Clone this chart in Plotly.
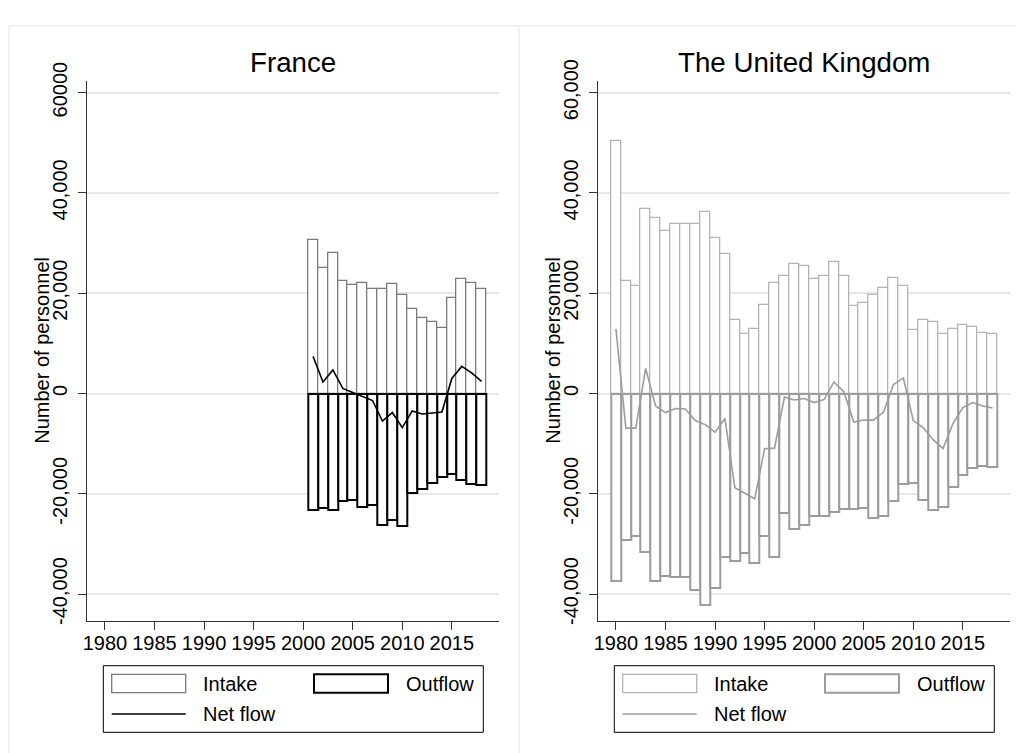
import plotly.graph_objects as go

# ---------------- data ----------------
years_fr = [2001, 2002, 2003, 2004, 2005, 2006, 2007, 2008, 2009, 2010,
            2011, 2012, 2013, 2014, 2015, 2016, 2017, 2018]
intake_fr = [30600, 25100, 28100, 22500, 21600, 22000, 20800, 20800, 21800, 19600,
             16900, 15000, 14300, 13100, 19000, 22800, 22000, 20800]
outflow_fr = [-23200, -22800, -23200, -21400, -21300, -22600, -22200, -26300, -25200, -26500,
              -19900, -19100, -17900, -16700, -16000, -17300, -18000, -18300]
net_fr = [7400, 2300, 4700, 1000, 200, -600, -1400, -5500, -3800, -6800,
          -3500, -4100, -3900, -3700, 3000, 5400, 4100, 2400]

years_uk = [1980, 1981, 1982, 1983, 1984, 1985, 1986, 1987, 1988, 1989,
            1990, 1991, 1992, 1993, 1994, 1995, 1996, 1997, 1998, 1999,
            2000, 2001, 2002, 2003, 2004, 2005, 2006, 2007, 2008, 2009,
            2010, 2011, 2012, 2013, 2014, 2015, 2016, 2017, 2018]
intake_uk = [50400, 22500, 21500, 36800, 35000, 32500, 33800, 33700, 33700, 36200,
             31100, 27800, 14700, 11900, 12900, 17700, 22000, 23500, 25800, 25500,
             22800, 23500, 26200, 23400, 17500, 18000, 19600, 21000, 23000, 21400,
             12700, 14700, 14300, 11800, 12900, 13700, 13200, 12100, 11900]
outflow_uk = [-37400, -29300, -28500, -31700, -37400, -36300, -36600, -36600, -39100, -42200,
              -38800, -32600, -33400, -31800, -33700, -28500, -32700, -23900, -27100, -26200,
              -24500, -24400, -23700, -23100, -23100, -22800, -24900, -24500, -21400, -18000,
              -17800, -21200, -23300, -22700, -18600, -16300, -14900, -14500, -14700]
net_uk = [12900, -6900, -6900, 5000, -2500, -3800, -3000, -3100, -5400, -6200,
          -7700, -5000, -18800, -19900, -21000, -11000, -10900, -700, -1300, -1000,
          -1800, -1200, 2300, 300, -5700, -5300, -5300, -3700, 1800, 3100,
          -5400, -6800, -9200, -11000, -6000, -2800, -1800, -2500, -2900]

y_ticks = [-40000, -20000, 0, 20000, 40000, 60000]
y_labels_fr = ["-40,000", "-20,000", "0", "20,000", "40,000", "60000"]
y_labels_uk = ["-40,000", "-20,000", "0", "20,000", "40,000", "60,000"]
x_ticks = [1980, 1985, 1990, 1995, 2000, 2005, 2010, 2015]
titles = ["France", "The United Kingdom"]
y_title = "Number of personnel"
legend_labels = ["Intake", "Outflow", "Net flow"]

# ---------------- layout helpers ----------------
# The page body has an 8px margin, so the figure is sized to fill the
# rest of the 1024x753 window and page coordinates are shifted by 8px.
OFF = 8
W, H = 1024 - OFF, 753 - OFF
FONT = "Liberation Sans, Arial, sans-serif"


def px(x):
    return min(max((x - OFF) / W, 0), 1)


def py(y):
    return min(max(1 - (y - OFF) / H, 0), 1)


panels = [
    dict(title=titles[0], years=years_fr, intake=intake_fr, outflow=outflow_fr, net=net_fr,
         ylabels=y_labels_fr, x0=87.3, x1=499.0, dx=0,
         c_in="#7a7a7a", c_out="#000000", c_net="#000000", sfx=""),
    dict(title=titles[1], years=years_uk, intake=intake_uk, outflow=outflow_uk, net=net_uk,
         ylabels=y_labels_uk, x0=598.3, x1=1010.0, dx=511,
         c_in="#b4b4b4", c_out="#9c9c9c", c_net="#9c9c9c", sfx="2"),
]

fig = go.Figure()
shapes = []
annotations = []

Y_TOP, Y_BOT = 81.0, 620.5
Y_RANGE = [-45264, 62313]
X_RANGE = [1978.22, 2019.76]

for p in panels:
    xa = "x" + p["sfx"]
    ya = "y" + p["sfx"]
    fig.add_trace(go.Bar(x=p["years"], y=p["intake"], width=1.0, xaxis=xa, yaxis=ya,
                         marker=dict(color="white", line=dict(color=p["c_in"], width=1.3)),
                         showlegend=False, name=legend_labels[0]))
    fig.add_trace(go.Bar(x=p["years"], y=p["outflow"], width=1.0, xaxis=xa, yaxis=ya,
                         marker=dict(color="white", line=dict(color=p["c_out"], width=2)),
                         showlegend=False, name=legend_labels[1]))
    fig.add_trace(go.Scatter(x=p["years"], y=p["net"], mode="lines", xaxis=xa, yaxis=ya,
                             line=dict(color=p["c_net"], width=1.6),
                             showlegend=False, name=legend_labels[2]))

    axis_x = dict(domain=[px(p["x0"]), px(p["x1"])], range=X_RANGE, anchor=ya,
                  tickvals=x_ticks, ticktext=[str(v) for v in x_ticks],
                  ticks="outside", ticklen=8, tickwidth=1, tickcolor="#333333",
                  showline=True, linecolor="#333333", linewidth=1,
                  showgrid=False, zeroline=False, automargin=False,
                  ticklabelstandoff=-4,
                  tickfont=dict(family=FONT, size=20, color="black"))
    axis_y = dict(domain=[py(Y_BOT), py(Y_TOP)], range=Y_RANGE, anchor=xa,
                  tickvals=y_ticks, ticktext=p["ylabels"], tickangle=-90,
                  ticks="outside", ticklen=8, tickwidth=1, tickcolor="#333333",
                  showline=True, linecolor="#333333", linewidth=1,
                  showgrid=True, gridcolor="#e6e6e6", gridwidth=1.5, zeroline=False,
                  automargin=False, ticklabelstandoff=3,
                  tickfont=dict(family=FONT, size=20, color="black"))
    fig.update_layout(**{"xaxis" + p["sfx"]: axis_x, "yaxis" + p["sfx"]: axis_y})

    dx = p["dx"]
    # title
    annotations.append(dict(text=p["title"], x=px((p["x0"] + p["x1"]) / 2), y=py(62),
                            xref="paper", yref="paper", xanchor="center", yanchor="middle",
                            showarrow=False, font=dict(family=FONT, size=27.7, color="black")))
    # y-axis title
    annotations.append(dict(text=y_title, x=px(42 + dx), y=py((Y_TOP + Y_BOT) / 2),
                            xref="paper", yref="paper", xanchor="center", yanchor="middle",
                            textangle=-90, showarrow=False,
                            font=dict(family=FONT, size=20, color="black")))
    # legend box
    shapes.append(dict(type="rect", xref="paper", yref="paper",
                       x0=px(103.3 + dx), x1=px(483.3 + dx), y0=py(732.3), y1=py(665.7),
                       line=dict(color="black", width=1), fillcolor="white"))
    shapes.append(dict(type="rect", xref="paper", yref="paper",
                       x0=px(111.7 + dx), x1=px(185.7 + dx), y0=py(692.7), y1=py(674.3),
                       line=dict(color=p["c_in"], width=1.3), fillcolor="white"))
    shapes.append(dict(type="rect", xref="paper", yref="paper",
                       x0=px(314 + dx), x1=px(388 + dx), y0=py(692.7), y1=py(674.3),
                       line=dict(color=p["c_out"], width=2), fillcolor="white"))
    shapes.append(dict(type="line", xref="paper", yref="paper",
                       x0=px(111.7 + dx), x1=px(185.7 + dx), y0=py(714), y1=py(714),
                       line=dict(color=p["c_net"], width=1.6)))
    for lbl, lx, ly in [(legend_labels[0], 201, 683.5), (legend_labels[1], 404, 683.5),
                        (legend_labels[2], 201, 714)]:
        annotations.append(dict(text=lbl, x=px(lx + dx), y=py(ly), xref="paper", yref="paper",
                                xanchor="left", yanchor="middle", showarrow=False,
                                font=dict(family=FONT, size=20, color="black")))

# panel frames (kept inside the page)
frame = dict(color="#ececec", width=1.5)
shapes.append(dict(type="line", xref="paper", yref="paper", layer="below",
                   x0=px(9), x1=1, y0=py(25.7), y1=py(25.7), line=frame))
shapes.append(dict(type="line", xref="paper", yref="paper", layer="below",
                   x0=px(9), x1=px(9), y0=0, y1=py(25.7), line=frame))
shapes.append(dict(type="line", xref="paper", yref="paper", layer="below",
                   x0=px(519), x1=px(519), y0=0, y1=py(25.7), line=frame))

fig.update_layout(width=W, height=H, margin=dict(l=0, r=0, t=0, b=0, autoexpand=False),
                  paper_bgcolor="white", plot_bgcolor="white",
                  barmode="overlay", bargap=0, showlegend=False,
                  shapes=shapes, annotations=annotations,
                  font=dict(family=FONT, color="black"))

fig.write_html("out.html", config={"responsive": False, "displayModeBar": False})
